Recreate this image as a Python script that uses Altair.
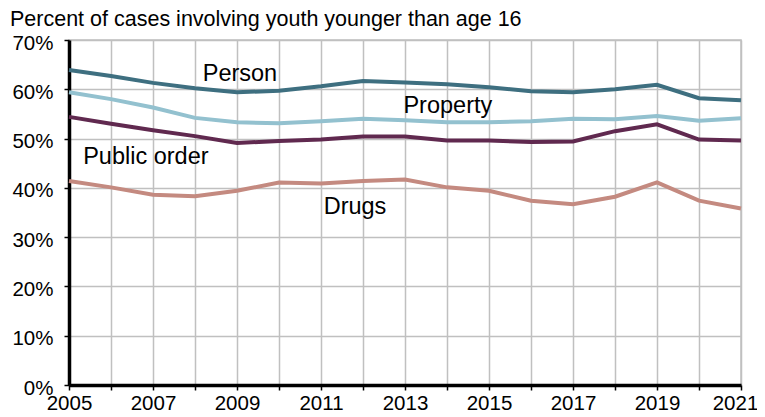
import altair as alt
import pandas as pd

years = list(range(2005, 2022))
person = [63.9, 62.7, 61.3, 60.2, 59.4, 59.7, 60.6, 61.7, 61.4, 61.0, 60.4, 59.6, 59.4, 60.0, 60.9, 58.2, 57.8]
prop = [59.4, 58.0, 56.3, 54.2, 53.3, 53.1, 53.5, 54.0, 53.7, 53.3, 53.3, 53.5, 54.0, 53.9, 54.6, 53.6, 54.1]
public_order = [54.4, 53.0, 51.7, 50.5, 49.1, 49.5, 49.8, 50.4, 50.4, 49.6, 49.6, 49.3, 49.4, 51.5, 52.9, 49.8, 49.6]
drugs = [41.4, 40.1, 38.6, 38.3, 39.4, 41.1, 40.9, 41.4, 41.7, 40.1, 39.4, 37.4, 36.7, 38.2, 41.1, 37.4, 35.8]

series_names = ["Person", "Property", "Public order", "Drugs"]
series_values = [person, prop, public_order, drugs]
colors = ["#3e6f80", "#93c1cf", "#60294f", "#c48a80"]

label_x = [2009.07, 2014.02, 2006.83, 2011.81]
label_y = [63.1, 56.6, 46.2, 36.1]

rows = []
for name, vals in zip(series_names, series_values):
    for yr, v in zip(years, vals):
        rows.append({"year": yr, "value": v, "series": name})
df = pd.DataFrame(rows)
lab = pd.DataFrame({"series": series_names, "x": label_x, "y": label_y})

FONT = "Liberation Sans"

xscale = alt.Scale(domain=[2005, 2021], nice=False, zero=False)
yscale = alt.Scale(domain=[0, 70], nice=False)
cscale = alt.Scale(domain=series_names, range=colors)

lines = alt.Chart(df).mark_line(strokeWidth=4, interpolate="linear").encode(
    x=alt.X("year:Q", scale=xscale, axis=alt.Axis(
        values=years, title=None, format="d",
        labelExpr="datum.value % 2 == 1 ? datum.label : ''",
        grid=True, gridColor="#c0c0c0", gridWidth=1.5,
        domainColor="black", domainWidth=3.5, tickColor="black", tickWidth=1.5,
        tickSize=5, labelPadding=3, labelFontSize=20.5, labelFont=FONT, labelColor="black",
        labelOverlap=False, labelFlush=False,
        labelOffset={"condition": {"test": "datum.value == 2021", "value": -6}, "value": 0})),
    y=alt.Y("value:Q", scale=yscale, axis=alt.Axis(
        values=[0, 10, 20, 30, 40, 50, 60, 70], title=None,
        labelExpr="datum.value + '%'",
        grid=True, gridColor="#c0c0c0", gridWidth=1.5,
        domainColor="black", domainWidth=3.5, tickColor="black", tickWidth=1.5,
        tickSize=5, labelPadding=11, labelFontSize=20.5, labelFont=FONT, labelColor="black",
        labelOffset=3, labelOverlap=False, labelFlush=False)),
    color=alt.Color("series:N", scale=cscale, legend=None),
    detail="series:N",
)

texts = alt.Chart(lab).mark_text(fontSize=23.5, font=FONT, color="black", align="center", baseline="middle").encode(
    x=alt.X("x:Q", scale=xscale),
    y=alt.Y("y:Q", scale=yscale),
    text="series:N",
)

chart = alt.layer(lines, texts).properties(
    width=672, height=345,
    title=alt.TitleParams("Percent of cases involving youth younger than age 16",
                          anchor="start", frame="group", fontSize=21.5, font=FONT,
                          fontWeight="normal", color="black", dx=-59, offset=3),
    autosize=alt.AutoSizeParams(type="none"),
    padding={"left": 61, "top": 32, "right": 16, "bottom": 32},
).configure_view(stroke="#c0c0c0", strokeWidth=1.5)

chart.save("out.html", embed_options={"renderer": "svg", "actions": False})
